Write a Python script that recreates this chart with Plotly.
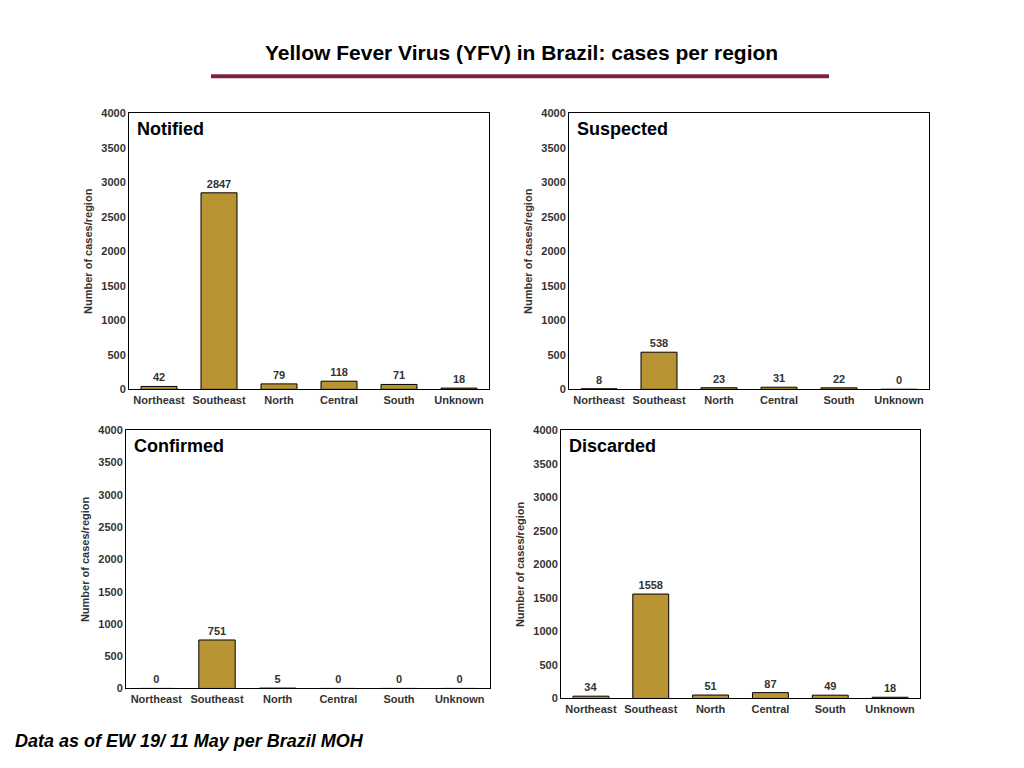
import plotly.graph_objects as go

regions = ["Northeast", "Southeast", "North", "Central", "South", "Unknown"]
notified = [42, 2847, 79, 118, 71, 18]
suspected = [8, 538, 23, 31, 22, 0]
confirmed = [0, 751, 5, 0, 0, 0]
discarded = [34, 1558, 51, 87, 49, 18]

panels = [
    ("Notified", notified, (130, 490, 113, 389)),
    ("Suspected", suspected, (570, 930, 113, 389)),
    ("Confirmed", confirmed, (127, 491, 430, 688)),
    ("Discarded", discarded, (562, 921, 430, 698)),
]

W, H = 1024, 768
font = "Liberation Sans, Arial, sans-serif"


# screen offset correction measured from the first render
def px(x):
    return (x - 9) / W


def py(y):
    return 1 - (y - 13.8) / 0.984 / H


fig = go.Figure()
for i, (name, vals, (x0, x1, y0, y1)) in enumerate(panels):
    s = "" if i == 0 else str(i + 1)
    fig.add_trace(go.Bar(
        x=regions, y=vals, xaxis="x" + s, yaxis="y" + s,
        marker=dict(color="#B89532", line=dict(color="black", width=1)),
        width=0.6, text=["<b>%d</b>" % v for v in vals], textposition="outside",
        textfont=dict(size=11, color="#333", family=font),
        cliponaxis=False, showlegend=False,
    ))
    fig.update_layout(**{
        "xaxis" + s: dict(domain=[px(x0), px(x1)], anchor="y" + s,
                          showline=True, mirror=True, linecolor="black", ticks="",
                          tickvals=regions, ticktext=["<b>%s</b>" % r for r in regions],
                          tickfont=dict(size=11, color="#333", family=font)),
        "yaxis" + s: dict(domain=[py(y1), py(y0)], anchor="x" + s,
                          range=[0, 4000], dtick=500, showgrid=False,
                          showline=True, mirror=True, linecolor="black",
                          tickfont=dict(size=11, color="#333", family=font),
                          tickprefix="<b>", ticksuffix="</b>",
                          title=dict(text="<b>Number of cases/region</b>",
                                     font=dict(size=11, color="#333", family=font),
                                     standoff=6)),
    })
    fig.add_annotation(x=px(x0 + 6), y=py(y0 + 4), xref="paper", yref="paper",
                       xanchor="left", yanchor="top", showarrow=False,
                       text="<b>" + name + "</b>",
                       font=dict(size=18, color="black", family=font))

fig.add_annotation(x=px(522), y=py(52), xref="paper", yref="paper",
                   xanchor="center", yanchor="middle", showarrow=False,
                   text="<b>Yellow Fever Virus (YFV) in Brazil: cases per region</b>",
                   font=dict(size=21, color="black", family=font))
fig.add_shape(type="line", xref="paper", yref="paper",
              x0=px(212), x1=px(830), y0=py(76), y1=py(76),
              line=dict(color="#7B2244", width=4))
fig.add_annotation(x=px(14), y=py(741), xref="paper", yref="paper",
                   xanchor="left", yanchor="middle", showarrow=False,
                   text="<b><i>Data as of EW 19/ 11 May per Brazil MOH</i></b>",
                   font=dict(size=18, color="black", family=font))

fig.update_layout(width=W, height=H, margin=dict(l=0, r=0, t=0, b=0),
                  plot_bgcolor="white", paper_bgcolor="white")
fig.write_html("out.html")
